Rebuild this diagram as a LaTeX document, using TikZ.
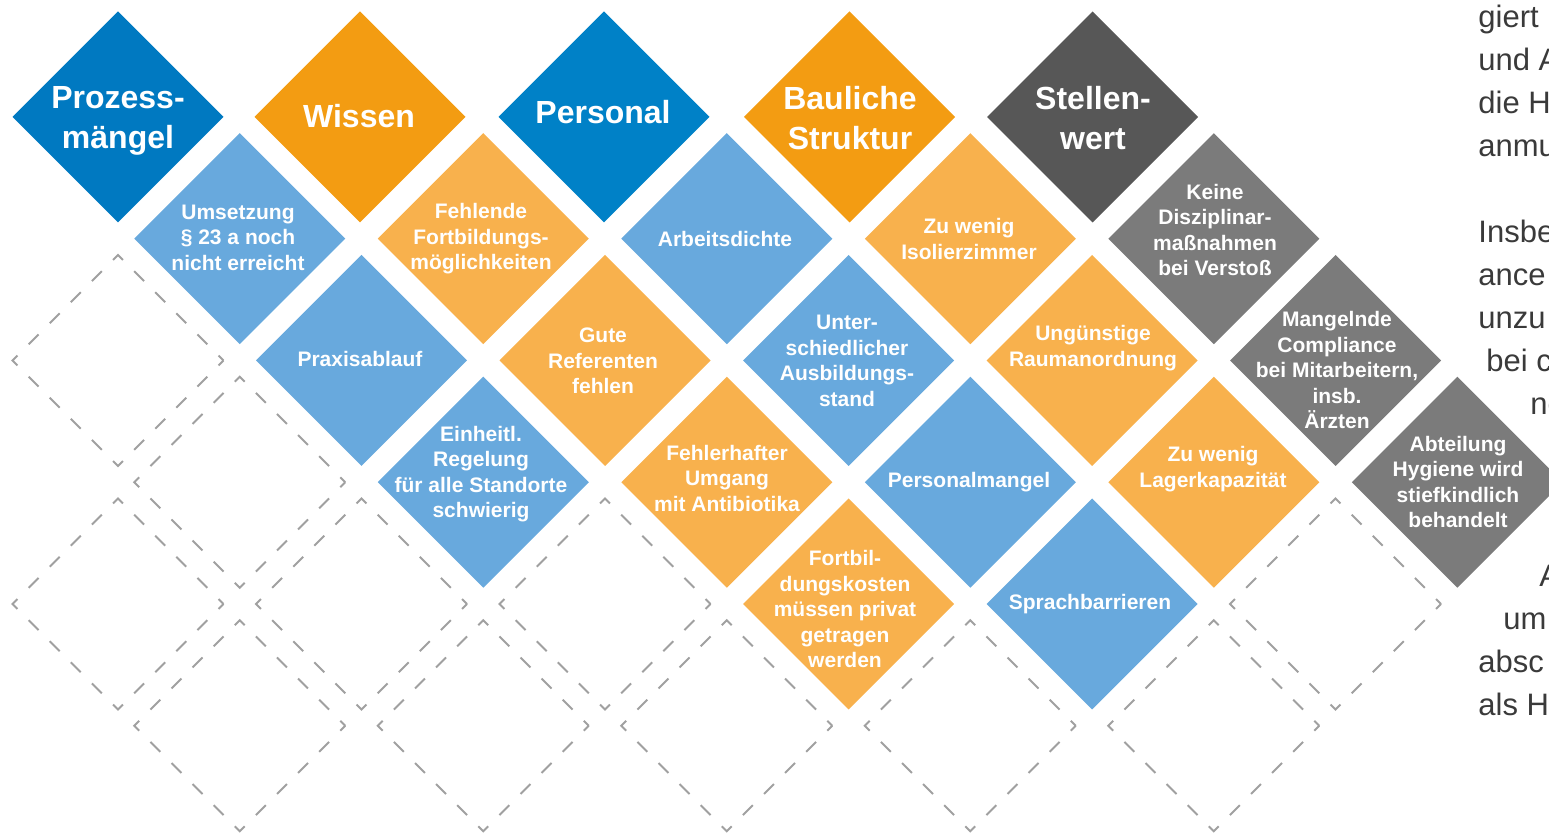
\documentclass[tikz,border=0pt]{standalone}
\usepackage{fontspec}
\setmainfont{Liberation Sans}
\usetikzlibrary{shapes.geometric}
\definecolor{hblue}{HTML}{0079C1}
\definecolor{hbluetwo}{HTML}{0081C7}
\definecolor{lblue}{HTML}{68A9DD}
\definecolor{horange}{HTML}{F39C12}
\definecolor{lorange}{HTML}{F8B14D}
\definecolor{dgray}{HTML}{575757}
\definecolor{mgray}{HTML}{7B7B7B}
\definecolor{dashc}{HTML}{A0A0A0}
\definecolor{bodyc}{HTML}{3A3A3A}
\begin{document}
\begin{tikzpicture}[x=0.5pt,y=-0.5pt,
  cell/.style={diamond, aspect=1, inner sep=0pt, outer sep=0pt,
    minimum width=105.5pt, minimum height=105.5pt},
  dashline/.style={draw=dashc, line width=1pt, dash pattern=on 7pt off 7.92pt, dash phase=3.5pt},
  htext/.style={text=white, font=\bfseries\fontsize{16}{20}\selectfont, align=center, inner sep=0pt},
  ctext/.style={text=white, font=\bfseries\fontsize{10.5}{12.75}\selectfont, align=center, inner sep=0pt},
  btext/.style={text=bodyc, font=\fontsize{15.5}{21.5}\selectfont, anchor=base west, inner sep=0pt}
]
\useasboundingbox (0,0) rectangle (1549,833);
\clip (0,0) rectangle (1549,833);

% ---------- dashed empty cells ----------
\node[cell] (d1) at (118,360.5) {};
\node[cell] (d2) at (239.75,482.25) {};
\node[cell] (d3) at (118,604) {};
\node[cell] (d4) at (361.5,604) {};
\node[cell] (d5) at (605,604) {};
\node[cell] (d6) at (1335.5,604) {};
\node[cell] (d7) at (239.75,725.75) {};
\node[cell] (d8) at (483.25,725.75) {};
\node[cell] (d9) at (726.75,725.75) {};
\node[cell] (d10) at (970.25,725.75) {};
\node[cell] (d11) at (1213.75,725.75) {};
\foreach \n in {d1,d2,d3,d4,d5,d6,d7,d8,d9,d10,d11}
  \draw[dashline] (\n.east) -- (\n.north) -- (\n.west) -- (\n.south) -- cycle;

% ---------- header cells ----------
\node[cell, fill=hblue] (h1) at (118,117) {};
\node[cell, fill=horange] (h2) at (360,117) {};
\node[cell, fill=hbluetwo] (h3) at (604,117) {};
\node[cell, fill=horange] (h4) at (849.5,117) {};
\node[cell, fill=dgray] (h5) at (1092.5,117) {};

% ---------- Prozessmaengel column ----------
\node[cell, fill=lblue] (c1) at (239.75,238.75) {};
\node[cell, fill=lblue] (c2) at (361.5,360.5) {};
\node[cell, fill=lblue] (c3) at (483.25,482.25) {};
% ---------- Wissen column ----------
\node[cell, fill=lorange] (c4) at (483.25,238.75) {};
\node[cell, fill=lorange] (c5) at (605,360.5) {};
\node[cell, fill=lorange] (c6) at (726.75,482.25) {};
\node[cell, fill=lorange] (c7) at (848.5,604) {};
% ---------- Personal column ----------
\node[cell, fill=lblue] (c8) at (726.75,238.75) {};
\node[cell, fill=lblue] (c9) at (848.5,360.5) {};
\node[cell, fill=lblue] (c10) at (970.25,482.25) {};
\node[cell, fill=lblue] (c11) at (1092,604) {};
% ---------- Bauliche Struktur column ----------
\node[cell, fill=lorange] (c12) at (970.25,238.75) {};
\node[cell, fill=lorange] (c13) at (1092,360.5) {};
\node[cell, fill=lorange] (c14) at (1213.75,482.25) {};
% ---------- Stellenwert column ----------
\node[cell, fill=mgray] (c15) at (1213.75,238.75) {};
\node[cell, fill=mgray] (c16) at (1335.5,360.5) {};
\node[cell, fill=mgray] (c17) at (1457.25,482.25) {};

% ---------- header texts ----------
\node[htext] (th1) at (118,121) {Prozess-\\mängel};
\node[htext] (th2) at (359,116) {Wissen};
\node[htext] (th3) at (603,112) {Personal};
\node[htext] (th4) at (850,118) {Bauliche\\Struktur};
\node[htext] (th5) at (1093,118) {Stellen-\\wert};

% ---------- cell texts ----------
\node[ctext] (t1) at (238,237.5) {Umsetzung\\§ 23 a noch\\nicht erreicht};
\node[ctext] (t2) at (360,359) {Praxisablauf};
\node[ctext] (t3) at (481,474) {Einheitl.\\Regelung\\für alle Standorte\\schwierig};
\node[ctext] (t4) at (481,239) {Fehlende\\Fortbildungs-\\möglichkeiten};
\node[ctext] (t5) at (603,361) {Gute\\Referenten\\fehlen};
\node[ctext] (t6) at (727,478) {Fehlerhafter\\Umgang\\mit Antibiotika};
\node[ctext] (t7) at (845,609) {Fortbil-\\dungskosten\\müssen privat\\getragen\\werden};
\node[ctext] (t8) at (725,239) {Arbeitsdichte};
\node[ctext] (t9) at (847,361) {Unter-\\schiedlicher\\Ausbildungs-\\stand};
\node[ctext] (t10) at (969,482) {Personalmangel};
\node[ctext] (t11) at (1090,604) {Sprachbarrieren};
\node[ctext] (t12) at (969,239) {Zu wenig\\Isolierzimmer};
\node[ctext] (t13) at (1093,348) {Ungünstige\\Raumanordnung};
\node[ctext] (t14) at (1213,469) {Zu wenig\\Lagerkapazität};
\node[ctext] (t15) at (1215,230) {Keine\\Disziplinar-\\maßnahmen\\bei Verstoß};
\node[ctext] (t16) at (1337,370) {Mangelnde\\Compliance\\bei Mitarbeitern,\\insb.\\Ärzten};
\node[ctext] (t17) at (1458,482) {Abteilung\\Hygiene wird\\stiefkindlich\\behandelt};

% ---------- running body text (cut at the right edge) ----------
\node[btext] (b1) at (1478,28) {giert};
\node[btext] (b2) at (1478,71) {und A};
\node[btext] (b3) at (1478,114) {die H};
\node[btext] (b4) at (1478,157) {anmu};
\node[btext] (b5) at (1478,243) {Insbe};
\node[btext] (b6) at (1478,286) {ance};
\node[btext] (b7) at (1478,329) {unzu};
\node[btext] (b8) at (1486,372) {bei c};
\node[btext] (b9) at (1530,415) {ne};
\node[btext] (b10) at (1539,587) {A};
\node[btext] (b11) at (1503,630) {um};
\node[btext] (b12) at (1478,673) {absc};
\node[btext] (b13) at (1478,716) {als H};
\end{tikzpicture}
\end{document}
